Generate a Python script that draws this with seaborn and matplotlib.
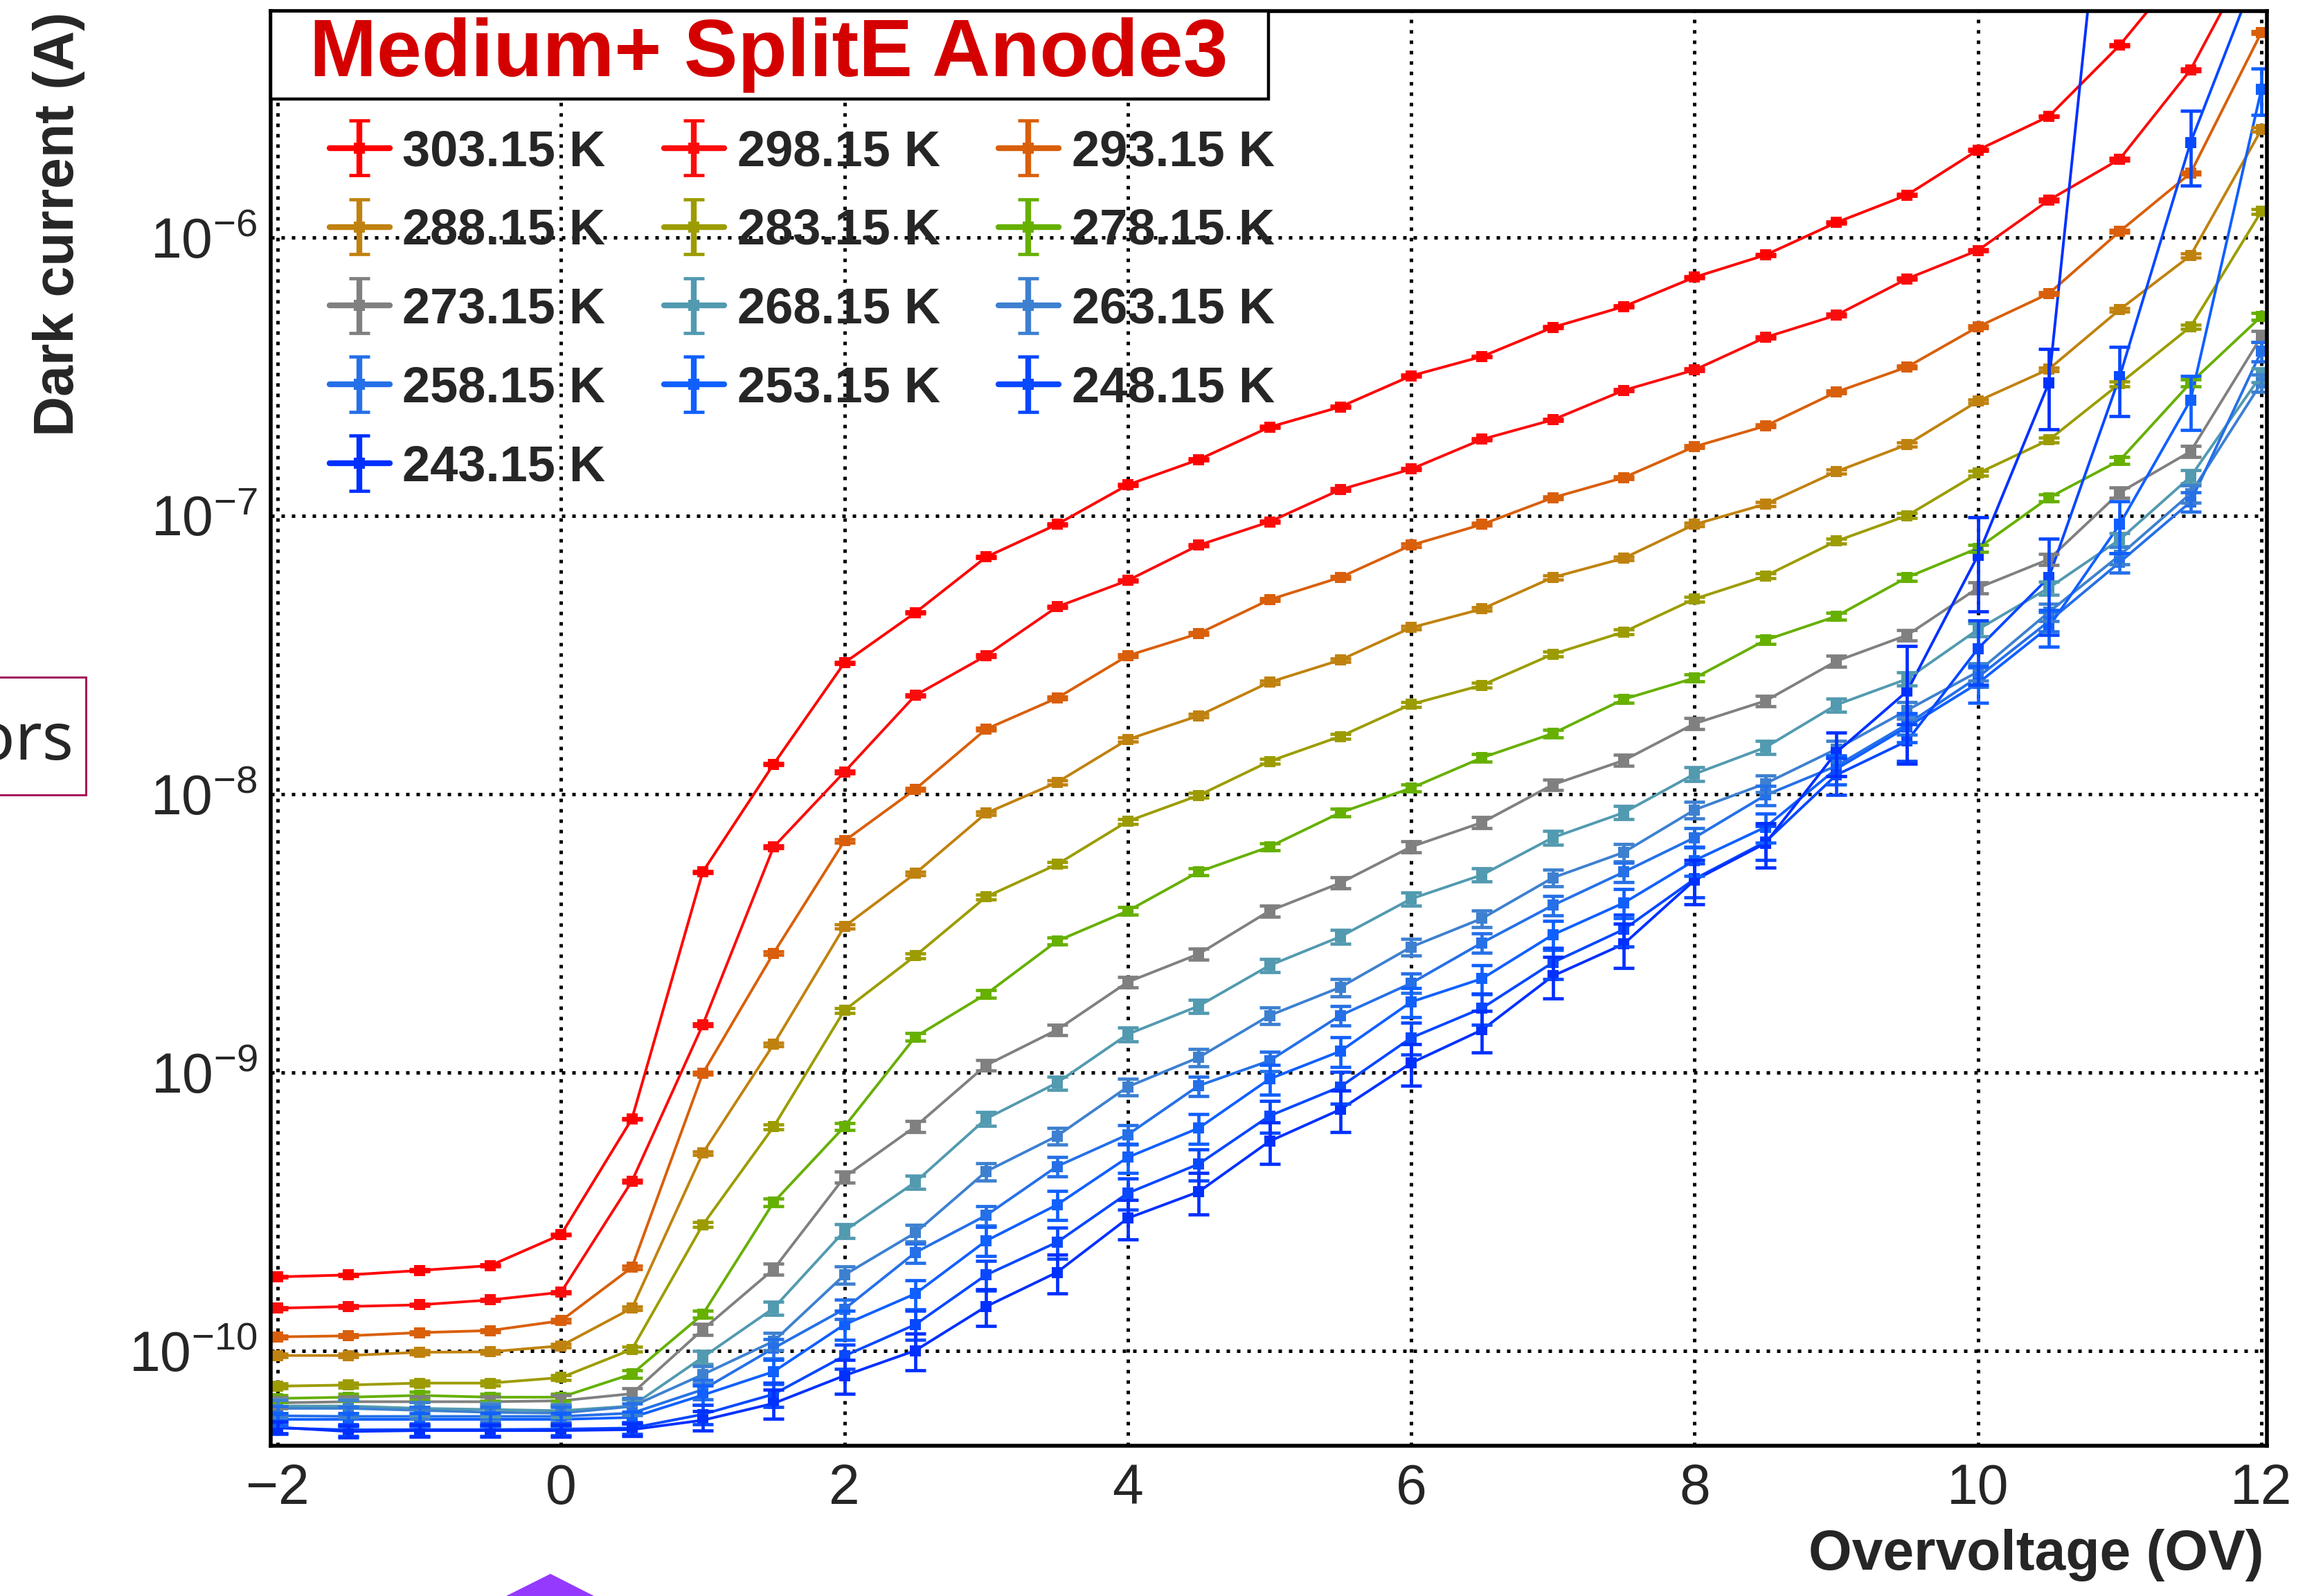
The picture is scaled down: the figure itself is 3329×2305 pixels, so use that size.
import numpy as np
import pandas as pd
import matplotlib
matplotlib.use("Agg")
import matplotlib.pyplot as plt
import matplotlib.ticker as mticker
from matplotlib.lines import Line2D
from matplotlib.patches import Rectangle, Polygon
from matplotlib.container import ErrorbarContainer
from matplotlib.legend_handler import HandlerErrorbar, HandlerLine2D
import seaborn as sns

# --- data (dark current in A) ---
overvoltage = [-2.0, -1.5, -1.0, -0.5, 0.0, 0.5, 1.0, 1.5, 2.0, 2.5, 3.0, 3.5, 4.0, 4.5,
               5.0, 5.5, 6.0, 6.5, 7.0, 7.5, 8.0, 8.5, 9.0, 9.5, 10.0, 10.5, 11.0, 11.5, 12.0]

temperatures = ["303.15 K", "298.15 K", "293.15 K", "288.15 K", "283.15 K", "278.15 K", "273.15 K",
                "268.15 K", "263.15 K", "258.15 K", "253.15 K", "248.15 K", "243.15 K"]

colors = ["#ff0000", "#fb0c0c", "#d95f0a", "#c0820e", "#9c9c00", "#66b000", "#808080",
          "#529ab0", "#3d80d0", "#2570e8", "#1060ff", "#0848ff", "#0030ff"]

nan = float("nan")
cur_303 = [1.84e-10, 1.87e-10, 1.94e-10, 2.02e-10, 2.61e-10, 6.8e-10, 5.25e-9, 1.28e-8, 2.96e-8, 4.48e-8,
           7.1e-8, 9.3e-8, 1.29e-7, 1.59e-7, 2.08e-7, 2.46e-7, 3.18e-7, 3.73e-7, 4.75e-7, 5.64e-7,
           7.19e-7, 8.64e-7, 1.13e-6, 1.42e-6, 2.06e-6, 2.72e-6, 4.9e-6, 1.0e-5, nan]
cur_298 = [1.42e-10, 1.44e-10, 1.46e-10, 1.52e-10, 1.62e-10, 4.06e-10, 1.48e-9, 6.45e-9, 1.2e-8, 2.26e-8,
           3.14e-8, 4.7e-8, 5.85e-8, 7.83e-8, 9.5e-8, 1.24e-7, 1.47e-7, 1.88e-7, 2.21e-7, 2.82e-7,
           3.34e-7, 4.37e-7, 5.25e-7, 7.1e-7, 8.98e-7, 1.36e-6, 1.91e-6, 4.0e-6, 1.2e-5]
cur_293 = [1.12e-10, 1.13e-10, 1.16e-10, 1.18e-10, 1.28e-10, 1.99e-10, 9.9e-10, 2.68e-9, 6.78e-9, 1.04e-8,
           1.71e-8, 2.21e-8, 3.14e-8, 3.77e-8, 4.99e-8, 6.0e-8, 7.83e-8, 9.3e-8, 1.16e-7, 1.37e-7,
           1.77e-7, 2.1e-7, 2.78e-7, 3.42e-7, 4.77e-7, 6.28e-7, 1.05e-6, 1.7e-6, 5.45e-6]
cur_288 = [9.6e-11, 9.6e-11, 9.86e-11, 9.9e-11, 1.04e-10, 1.42e-10, 5.12e-10, 1.26e-9, 3.34e-9, 5.18e-9,
           8.53e-9, 1.1e-8, 1.57e-8, 1.91e-8, 2.52e-8, 3.03e-8, 3.96e-8, 4.62e-8, 6.0e-8, 7.03e-8,
           9.3e-8, 1.1e-7, 1.44e-7, 1.8e-7, 2.58e-7, 3.36e-7, 5.5e-7, 8.6e-7, 2.44e-6]
cur_283 = [7.45e-11, 7.52e-11, 7.64e-11, 7.64e-11, 8.0e-11, 1.01e-10, 2.83e-10, 6.37e-10, 1.67e-9, 2.62e-9,
           4.27e-9, 5.58e-9, 7.98e-9, 9.88e-9, 1.31e-8, 1.61e-8, 2.1e-8, 2.46e-8, 3.18e-8, 3.82e-8,
           5.02e-8, 6.07e-8, 8.1e-8, 1.0e-7, 1.42e-7, 1.87e-7, 2.98e-7, 4.77e-7, 1.24e-6]
cur_278 = [6.73e-11, 6.8e-11, 6.9e-11, 6.8e-11, 6.8e-11, 8.24e-11, 1.35e-10, 3.41e-10, 6.38e-10, 1.34e-9,
           1.91e-9, 2.96e-9, 3.8e-9, 5.25e-9, 6.46e-9, 8.57e-9, 1.05e-8, 1.35e-8, 1.65e-8, 2.19e-8,
           2.61e-8, 3.57e-8, 4.35e-8, 6.0e-8, 7.64e-8, 1.16e-7, 1.58e-7, 3.0e-7, 5.2e-7]
cur_273 = [6.49e-11, 6.55e-11, 6.55e-11, 6.55e-11, 6.6e-11, 7.0e-11, 1.19e-10, 1.96e-10, 4.2e-10, 6.38e-10,
           1.06e-9, 1.42e-9, 2.11e-9, 2.66e-9, 3.8e-9, 4.79e-9, 6.46e-9, 7.9e-9, 1.08e-8, 1.32e-8,
           1.79e-8, 2.16e-8, 3.0e-8, 3.72e-8, 5.5e-8, 6.97e-8, 1.21e-7, 1.7e-7, 4.4e-7]
cur_268 = [6.32e-11, 6.32e-11, 6.2e-11, 6.14e-11, 6.08e-11, 6.32e-11, 9.46e-11, 1.42e-10, 2.69e-10, 4.03e-10,
           6.81e-10, 9.16e-10, 1.37e-9, 1.73e-9, 2.42e-9, 3.07e-9, 4.2e-9, 5.12e-9, 6.97e-9, 8.57e-9,
           1.18e-8, 1.47e-8, 2.09e-8, 2.59e-8, 3.9e-8, 5.5e-8, 8.2e-8, 1.38e-7, 3.2e-7]
cur_263 = [6.2e-11, 6.2e-11, 6.1e-11, 6.0e-11, 5.96e-11, 6.3e-11, 8.2e-11, 1.08e-10, 1.87e-10, 2.65e-10,
           4.4e-10, 5.9e-10, 8.87e-10, 1.13e-9, 1.6e-9, 2.02e-9, 2.82e-9, 3.57e-9, 5.0e-9, 6.17e-9,
           8.77e-9, 1.09e-8, 1.45e-8, 2.0e-8, 2.75e-8, 4.5e-8, 7.2e-8, 1.2e-7, 3.0e-7]
cur_258 = [5.83e-11, 5.8e-11, 5.8e-11, 5.8e-11, 5.8e-11, 5.96e-11, 7.24e-11, 1.02e-10, 1.41e-10, 2.25e-10,
           3.06e-10, 4.59e-10, 5.97e-10, 8.95e-10, 1.1e-9, 1.6e-9, 2.09e-9, 2.92e-9, 3.98e-9, 5.24e-9,
           6.97e-9, 9.9e-9, 1.26e-8, 1.78e-8, 2.63e-8, 4.17e-8, 6.8e-8, 1.12e-7, 3.9e-7]
cur_253 = [5.66e-11, 5.66e-11, 5.66e-11, 5.66e-11, 5.66e-11, 5.75e-11, 6.92e-11, 8.4e-11, 1.24e-10, 1.6e-10,
           2.48e-10, 3.34e-10, 4.95e-10, 6.3e-10, 9.46e-10, 1.19e-9, 1.79e-9, 2.17e-9, 3.12e-9, 4.06e-9,
           5.77e-9, 7.6e-9, 1.23e-8, 1.74e-8, 2.5e-8, 3.98e-8, 9.3e-8, 2.6e-7, 3.4e-6]
cur_248 = [5.27e-11, 5.19e-11, 5.2e-11, 5.2e-11, 5.22e-11, 5.27e-11, 5.9e-11, 6.97e-11, 9.57e-11, 1.24e-10,
           1.87e-10, 2.45e-10, 3.68e-10, 4.68e-10, 6.97e-10, 8.87e-10, 1.33e-9, 1.7e-9, 2.48e-9, 3.26e-9,
           4.95e-9, 6.73e-9, 1.17e-8, 1.55e-8, 3.33e-8, 6.0e-8, 3.16e-7, 2.19e-6, 9.9e-6]
cur_243 = [5.3e-11, 5.12e-11, 5.16e-11, 5.16e-11, 5.16e-11, 5.2e-11, 5.62e-11, 6.46e-11, 8.13e-11, 1.0e-10,
           1.44e-10, 1.91e-10, 2.99e-10, 3.72e-10, 5.65e-10, 7.35e-10, 1.08e-9, 1.42e-9, 2.22e-9, 2.89e-9,
           4.9e-9, 6.65e-9, 1.41e-8, 2.34e-8, 7.2e-8, 3.0e-7, 8.2e-5, nan, nan]

# relative errors: one value for the warmer curves, point by point for the three coldest
rel_err_warm = [0.008, 0.01, 0.012, 0.015, 0.02, 0.03, 0.045, 0.055, 0.07, 0.08]
err_253 = [0.05, 0.05, 0.05, 0.05, 0.05, 0.05, 0.08, 0.1, 0.12, 0.12, 0.12, 0.12, 0.12, 0.12, 0.12,
           0.12, 0.12, 0.12, 0.12, 0.12, 0.12, 0.12, 0.12, 0.12, 0.15, 0.15, 0.21, 0.22, 0.19]
err_248 = [0.05, 0.05, 0.05, 0.05, 0.05, 0.05, 0.08, 0.1, 0.1, 0.12, 0.12, 0.13, 0.13, 0.13, 0.13,
           0.13, 0.13, 0.13, 0.13, 0.13, 0.14, 0.14, 0.15, 0.15, 0.26, 0.38, 0.28, 0.3, 0.3]
err_243 = [0.05, 0.05, 0.05, 0.05, 0.05, 0.05, 0.08, 0.12, 0.14, 0.15, 0.15, 0.16, 0.16, 0.17, 0.17,
           0.17, 0.17, 0.17, 0.17, 0.18, 0.18, 0.18, 0.18, 0.45, 0.37, 0.32, 0.3, nan, nan]

series = [cur_303, cur_298, cur_293, cur_288, cur_283, cur_278, cur_273,
          cur_268, cur_263, cur_258, cur_253, cur_248, cur_243]
rel_errs = rel_err_warm + [err_253, err_248, err_243]

df = pd.DataFrame({
    "ov": np.tile(overvoltage, len(series)),
    "current": np.concatenate([np.asarray(s, float) for s in series]),
    "temp": np.repeat(temperatures, len(overvoltage)),
})

# --- style ---
sns.set_theme(style="white")
plt.rcParams["font.family"] = ["Liberation Sans", "DejaVu Sans"]
plt.rcParams["mathtext.fontset"] = "custom"
plt.rcParams["mathtext.rm"] = "Liberation Sans"
plt.rcParams["mathtext.it"] = "Liberation Sans:italic"
plt.rcParams["mathtext.bf"] = "Liberation Sans:bold"

W, H, DPI = 3329, 2305, 200
fig = plt.figure(figsize=(W / DPI, H / DPI), dpi=DPI, facecolor="white")
ax = fig.add_axes([391 / W, 1 - 2088 / H, (3274 - 391) / W, (2088 - 16) / H])

sns.lineplot(data=df, x="ov", y="current", hue="temp", hue_order=temperatures, palette=colors,
             estimator=None, sort=False, marker="s", markersize=5.5, markeredgewidth=0,
             linewidth=1.4, legend=False, ax=ax)
data_lines = list(ax.lines)

bars = []
for y, rel, c in zip(series, rel_errs, colors):
    y = np.asarray(y, float)
    err = y * np.asarray(rel, float)
    eb = ax.errorbar(overvoltage, y, yerr=err, fmt="none", ecolor=c, elinewidth=1.7,
                     capsize=5.5, capthick=1.7)
    bars.append(eb)

ax.set_yscale("log")
ax.set_ylim(4.55e-11, 6.5e-6)
ax.set_xlim(-2.049, 12.039)
ax.xaxis.label.set_visible(False)
ax.yaxis.label.set_visible(False)

# only the decades inside the frame get a label
decades = [10.0 ** k for k in range(-10, -5)]
minor_y = [m * 10.0 ** k for k in range(-11, -5) for m in range(2, 10)]
minor_y = [v for v in minor_y if 4.55e-11 < v < 6.5e-6]
ax.xaxis.set_major_locator(mticker.MultipleLocator(2))
ax.xaxis.set_minor_locator(mticker.MultipleLocator(0.5))
ax.yaxis.set_major_locator(mticker.FixedLocator(decades))
ax.yaxis.set_major_formatter(mticker.LogFormatterSciNotation())
ax.yaxis.set_minor_locator(mticker.FixedLocator(minor_y))
ax.yaxis.set_minor_formatter(mticker.NullFormatter())

ax.tick_params(which="both", direction="in", top=False, right=False, color="black")
ax.tick_params(axis="x", which="major", length=19, width=1.6, pad=9, labelsize=29)
ax.tick_params(axis="x", which="minor", length=8.5, width=1.6)
ax.tick_params(axis="y", which="major", length=31, width=1.6, pad=7, labelsize=29)
ax.tick_params(axis="y", which="minor", length=14, width=1.6)

ax.grid(True, which="major", color="black", linestyle=(0, (1, 2)), linewidth=1.8)
ax.set_axisbelow(True)
for sp in ax.spines.values():
    sp.set_linewidth(2)
    sp.set_color("black")

# axis titles, ROOT style (bold, at the ends of the axes)
fig.text(3270 / W, 1 - 2267 / H, "Overvoltage (OV)", fontsize=29, fontweight="bold",
         ha="right", va="baseline")
fig.text(85 / W, 1 - 17 / H, "Dark current (A)", fontsize=29, fontweight="bold",
         rotation=90, ha="center", va="top")

# title box
fig.add_artist(Rectangle((391 / W, 1 - 143 / H), (1832 - 391) / W, (143 - 16) / H,
                         transform=fig.transFigure, facecolor="white", edgecolor="black",
                         linewidth=1.6, zorder=5))
fig.text(447 / W, 1 - 110 / H, "Medium+ SplitE Anode3", color="#d40000", fontsize=42,
         fontweight="bold", ha="left", va="baseline", zorder=6)

# legend, 3 columns filled row by row
def thick(legend_handle, orig_handle):
    legend_handle.update_from(orig_handle)
    legend_handle.set_linewidth(3.0)

blank = Line2D([], [], linestyle="none", marker=None)
entries = [(data_lines[i], bars[i]) for i in range(len(series))]
labels = list(temperatures)
order = [0, 3, 6, 9, 12, 1, 4, 7, 10, None, 2, 5, 8, 11, None]
leg_handles = [entries[i] if i is not None else blank for i in order]
leg_labels = [labels[i] if i is not None else "" for i in order]
fig.legend(leg_handles, leg_labels, ncol=3, loc="upper left",
           bbox_to_anchor=(476 / W, 1 - 186 / H), bbox_transform=fig.transFigure,
           frameon=False, borderpad=0, borderaxespad=0, handlelength=1.2, handletextpad=0.26,
           columnspacing=1.17, labelspacing=0.634,
           prop={"family": "Liberation Sans", "weight": "bold", "size": 26},
           handler_map={ErrorbarContainer: HandlerErrorbar(xerr_size=0.5, yerr_size=0.55, update_func=thick),
                        Line2D: HandlerLine2D(update_func=thick)})

# screenshot leftovers at the page edge
fig.add_artist(Rectangle((-40 / W, 1 - 1148 / H), (124 + 40) / W, (1148 - 978) / H,
                         transform=fig.transFigure, facecolor="white", edgecolor="#a3195b",
                         linewidth=1.1))
fig.text(107 / W, 1 - 1097 / H, "Errors", family=["Noto Sans", "DejaVu Sans"], fontsize=34,
         ha="right", va="baseline")
fig.add_artist(Polygon([(731 / W, 0.0), (795 / W, 1 - 2273 / H), (858 / W, 0.0)], closed=True,
                       transform=fig.transFigure, facecolor="#9539ff", edgecolor="none"))

fig.savefig("out.png", dpi=DPI, facecolor="white")
